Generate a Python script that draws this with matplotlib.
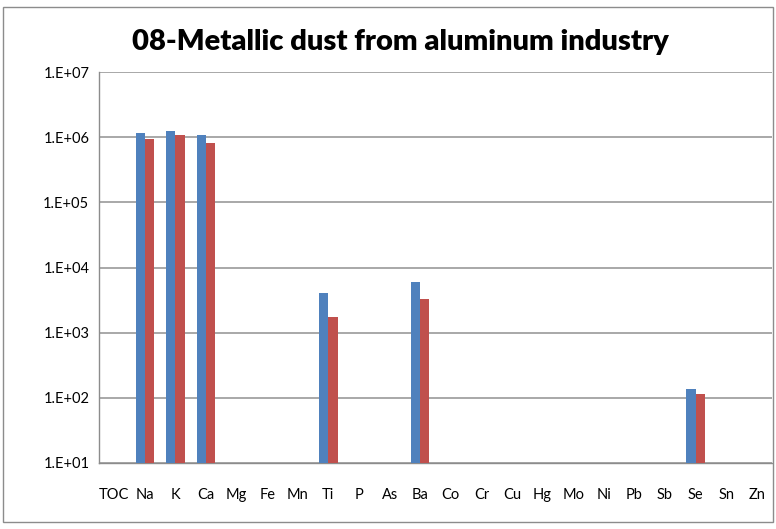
import matplotlib
matplotlib.use("Agg")
import matplotlib.pyplot as plt
import numpy as np
from matplotlib.patches import Rectangle
from matplotlib.ticker import FixedLocator

categories = ["TOC", "Na", "K", "Ca", "Mg", "Fe", "Mn", "Ti", "P", "As", "Ba",
              "Co", "Cr", "Cu", "Hg", "Mo", "Ni", "Pb", "Sb", "Se", "Sn", "Zn"]
series1 = [np.nan, 1.14e6, 1.25e6, 1.08e6, np.nan, np.nan, np.nan, 4.06e3, np.nan, np.nan, 6.0e3,
           np.nan, np.nan, np.nan, np.nan, np.nan, np.nan, np.nan, np.nan, 125, np.nan, np.nan]
series2 = [np.nan, 9.4e5, 1.08e6, 8.2e5, np.nan, np.nan, np.nan, 1.72e3, np.nan, np.nan, 3.3e3,
           np.nan, np.nan, np.nan, np.nan, np.nan, np.nan, np.nan, np.nan, 105, np.nan, np.nan]
ytick_values = [1e1, 1e2, 1e3, 1e4, 1e5, 1e6, 1e7]
ytick_labels = ["1.E+01", "1.E+02", "1.E+03", "1.E+04", "1.E+05", "1.E+06", "1.E+07"]
title = "08-Metallic dust from aluminum industry"

plt.rcParams['font.family'] = ['Lato', 'DejaVu Sans']

W, H = 776, 529
fig = plt.figure(figsize=(W/100, H/100), dpi=100)
ax = fig.add_axes([99/W, 1-463/H, (772-99)/W, (463-72)/H])

x = np.arange(len(categories))
bw = 0.3
ax.bar(x - bw/2, series1, width=bw, color="#4F81BD", bottom=1e1, zorder=3)
ax.bar(x + bw/2, series2, width=bw, color="#C0504D", bottom=1e1, zorder=3)

ax.set_yscale("log")
ax.set_ylim(1e1, 1e7)
ax.set_xlim(-0.5, len(categories) - 0.5)
ax.yaxis.set_major_locator(FixedLocator(ytick_values))
ax.yaxis.set_minor_locator(FixedLocator([]))
ax.set_yticks(ytick_values)
ax.set_yticklabels(ytick_labels)
ax.set_xticks(x)
ax.set_xticklabels(categories)
ax.tick_params(axis="both", length=0, labelsize=10.5, colors="black")
ax.tick_params(axis="x", pad=18)
ax.tick_params(axis="y", pad=7)
ax.grid(axis="y", color="#9A9A9A", linewidth=1.2, zorder=0)
for s in ["top", "right"]:
    ax.spines[s].set_visible(False)
for s in ["left", "bottom"]:
    ax.spines[s].set_color("#8C8C8C")
    ax.spines[s].set_linewidth(1.0)

fig.text(400/W, 1-42/H, title, ha="center", va="center", fontsize=21, fontweight="heavy")
fig.patches.append(Rectangle((3/W, 1-522/H), (773-3)/W, (522-7)/H, transform=fig.transFigure,
                             fill=False, edgecolor="#8C8C8C", linewidth=1.0))

fig.savefig("out.png", dpi=100)
